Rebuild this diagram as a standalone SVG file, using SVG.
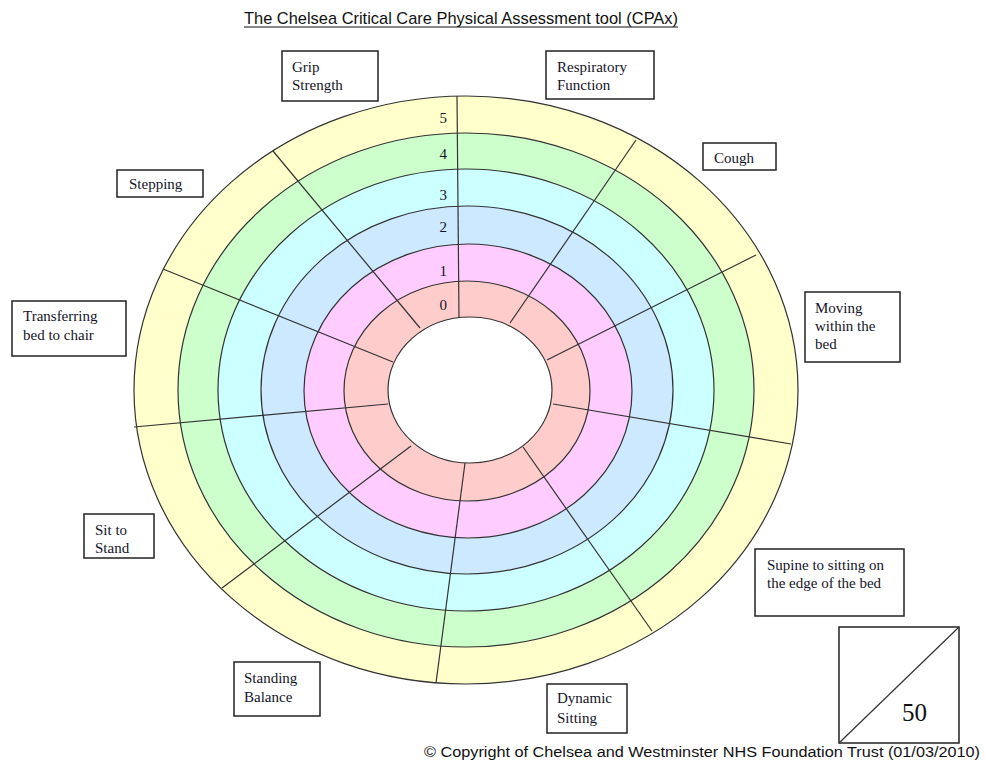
<svg xmlns="http://www.w3.org/2000/svg" width="985" height="764" viewBox="0 0 985 764">
<style>
.ring{stroke:#333;stroke-width:1.2}
.spoke{stroke:#333;stroke-width:1.2;fill:none}
.box{fill:#fff;stroke:#222;stroke-width:1.5}
.serif{font-family:"Liberation Serif","DejaVu Serif","Times New Roman",serif}
.lbl{font-size:15px;fill:#141428}
.num{font-size:15px;fill:#141428;text-anchor:end}
.sans{font-family:"Liberation Sans","DejaVu Sans",Arial,sans-serif;fill:#111}
</style>
<rect width="985" height="764" fill="#fff"/>
<text class="sans" x="244" y="24" font-size="17" textLength="434" lengthAdjust="spacingAndGlyphs">The Chelsea Critical Care Physical Assessment tool (CPAx)</text>
<line x1="244" y1="27" x2="678" y2="27" stroke="#111" stroke-width="1"/>
<g id="rings">
<ellipse class="ring" cx="466" cy="390" rx="332" ry="294" fill="#FFFFCC"/>
<ellipse class="ring" cx="466" cy="390" rx="288" ry="257" fill="#CCFFCC"/>
<ellipse class="ring" cx="466" cy="390" rx="248" ry="221" fill="#CCFFFF"/>
<ellipse class="ring" cx="467" cy="390" rx="206" ry="184" fill="#CCE9FF"/>
<ellipse class="ring" cx="468" cy="391" rx="164" ry="147" fill="#FFCCFF"/>
<ellipse class="ring" cx="467" cy="391" rx="123" ry="110" fill="#FFCCCC"/>
<ellipse class="ring" cx="470" cy="390" rx="82" ry="73" fill="#FFFFFF"/>
</g>
<g id="connectors">
<line class="spoke" x1="457" y1="96" x2="459" y2="318"/>
<line class="spoke" x1="636" y1="140" x2="510" y2="323"/>
<line class="spoke" x1="756" y1="255" x2="547" y2="360"/>
<line class="spoke" x1="791" y1="444" x2="553" y2="404"/>
<line class="spoke" x1="652" y1="631" x2="523" y2="447"/>
<line class="spoke" x1="436" y1="683" x2="465" y2="463"/>
<line class="spoke" x1="222" y1="588" x2="411" y2="446"/>
<line class="spoke" x1="134" y1="427" x2="388" y2="404"/>
<line class="spoke" x1="163" y1="269" x2="393" y2="362"/>
<line class="spoke" x1="273" y1="151" x2="420" y2="328"/>
</g>
<g id="scale" class="serif">
<text class="num" x="447" y="123">5</text>
<text class="num" x="447" y="159">4</text>
<text class="num" x="447" y="200">3</text>
<text class="num" x="447" y="232">2</text>
<text class="num" x="447" y="276">1</text>
<text class="num" x="447" y="310">0</text>
</g>
<g id="grip" class="serif">
<rect class="box" x="282" y="51" width="96" height="50"/>
<text class="lbl" x="292" y="72">Grip</text>
<text class="lbl" x="292" y="90">Strength</text>
</g>
<g id="respiratory" class="serif">
<rect class="box" x="546" y="51" width="108" height="48"/>
<text class="lbl" x="557" y="72">Respiratory</text>
<text class="lbl" x="557" y="90">Function</text>
</g>
<g id="cough" class="serif">
<rect class="box" x="703" y="143" width="73" height="27"/>
<text class="lbl" x="714" y="163">Cough</text>
</g>
<g id="moving" class="serif">
<rect class="box" x="805" y="292" width="95" height="70"/>
<text class="lbl" x="815" y="313">Moving</text>
<text class="lbl" x="815" y="331">within the</text>
<text class="lbl" x="815" y="349">bed</text>
</g>
<g id="supine" class="serif">
<rect class="box" x="755" y="549" width="149" height="67"/>
<text class="lbl" x="767" y="570">Supine to sitting on</text>
<text class="lbl" x="767" y="588">the edge of the bed</text>
</g>
<g id="dynamic" class="serif">
<rect class="box" x="547" y="684" width="80" height="49"/>
<text class="lbl" x="557" y="703">Dynamic</text>
<text class="lbl" x="557" y="723">Sitting</text>
</g>
<g id="standing" class="serif">
<rect class="box" x="234" y="662" width="86" height="54"/>
<text class="lbl" x="244" y="683">Standing</text>
<text class="lbl" x="244" y="702">Balance</text>
</g>
<g id="sit" class="serif">
<rect class="box" x="84" y="514" width="70" height="44"/>
<text class="lbl" x="95" y="535">Sit to</text>
<text class="lbl" x="95" y="553">Stand</text>
</g>
<g id="transferring" class="serif">
<rect class="box" x="12" y="301" width="114" height="55"/>
<text class="lbl" x="23" y="321">Transferring</text>
<text class="lbl" x="23" y="340">bed to chair</text>
</g>
<g id="stepping" class="serif">
<rect class="box" x="117" y="170" width="86" height="27"/>
<text class="lbl" x="129" y="189">Stepping</text>
</g>
<g id="score" class="serif">
<rect class="box" x="839" y="627" width="120" height="116"/>
<line x1="839" y1="743" x2="959" y2="627" stroke="#333" stroke-width="1.2"/>
<text x="902" y="721" font-size="25" fill="#111">50</text>
</g>
<text class="sans" x="424" y="757" font-size="14" textLength="556" lengthAdjust="spacingAndGlyphs">© Copyright of Chelsea and Westminster NHS Foundation Trust (01/03/2010)</text>
</svg>
